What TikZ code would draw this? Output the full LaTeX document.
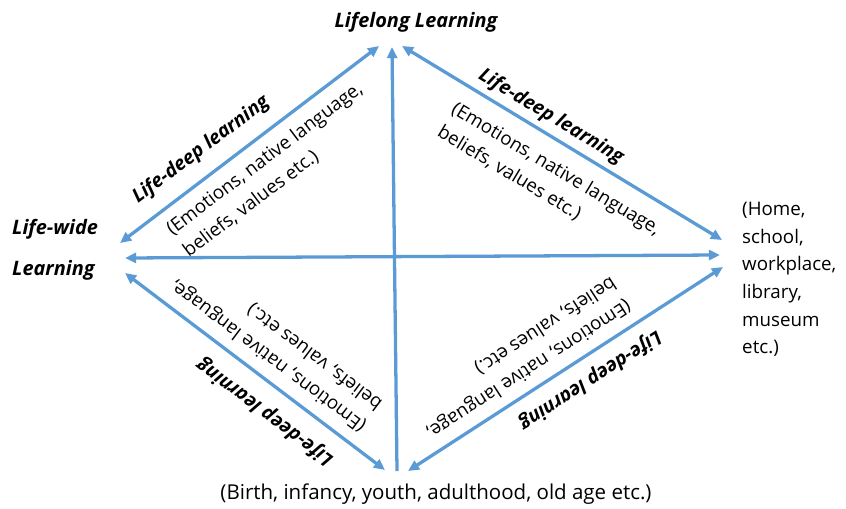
\documentclass[tikz,border=0pt]{standalone}
\usepackage{fontspec}
\setmainfont{Open Sans}
\usetikzlibrary{arrows.meta}
\definecolor{linkblue}{HTML}{5B9BD5}

\begin{document}
\begin{tikzpicture}[x=0.03cm,y=-0.03cm,
    tip/.style={arrows={-Triangle[length=9.5pt,width=8.5pt]}},
    link/.style={draw=linkblue,line width=2.8pt},
    twoway/.style={link,arrows={Triangle[length=9.5pt,width=8.5pt]-Triangle[length=9.5pt,width=8.5pt]}},
    corner/.style={font=\fontsize{17}{20}\selectfont\bfseries\itshape,inner sep=0pt},
    head/.style={font=\fontsize{16.5}{20}\selectfont\bfseries\itshape,inner sep=0pt},
    body/.style={font=\fontsize{16}{23.5}\selectfont,align=left,inner sep=0pt}]
  \useasboundingbox (0,0) rectangle (846,509);

  % the four corners of the diamond
  \node[corner] (top) at (416,22) {Lifelong Learning};
  \node[corner,anchor=west] (wide) at (12,229) {Life-wide};
  \node[corner,anchor=west] (wideb) at (12,270) {Learning};
  \node[body,anchor=west] (place) at (742,279.5) {(Home,\\school,\\workplace,\\library,\\museum\\etc.)};
  \node[body,font=\fontsize{17.5}{21}\selectfont] (age) at (436,494) {(Birth, infancy, youth, adulthood, old age etc.)};

  % arrow ends near each corner
  \coordinate (t1) at (379,46);  \coordinate (t2) at (392,47);  \coordinate (t3) at (402,46);
  \coordinate (l1) at (120,243); \coordinate (l2) at (125,258); \coordinate (l3) at (125,273);
  \coordinate (r1) at (722,240); \coordinate (r2) at (720,255); \coordinate (r3) at (723,267);
  \coordinate (b1) at (385,470); \coordinate (b2) at (397,471); \coordinate (b3) at (408,471);

  \draw[twoway] (l1) -- (t1);
  \draw[twoway] (t3) -- (r1);
  \draw[twoway] (l3) -- (b1);
  \draw[twoway] (b3) -- (r3);
  \draw[twoway] (l2) -- (r2);
  \draw[link,tip] (b2) -- (t2);

  % labels along the sides
  \foreach \name/\hx/\hy/\tx/\ty/\ang in {ul/201/150/273/170/37, ur/551/117/549/181/-31,
      ll/265/412/276/345/143, lr/590/380/521/358/213} {
    \node[head,rotate=\ang] (\name head) at (\hx,\hy) {Life-deep learning};
    \node[body,rotate=\ang] (\name text) at (\tx,\ty) {(Emotions, native language,\\beliefs, values etc.)};
  }
\end{tikzpicture}
\end{document}
